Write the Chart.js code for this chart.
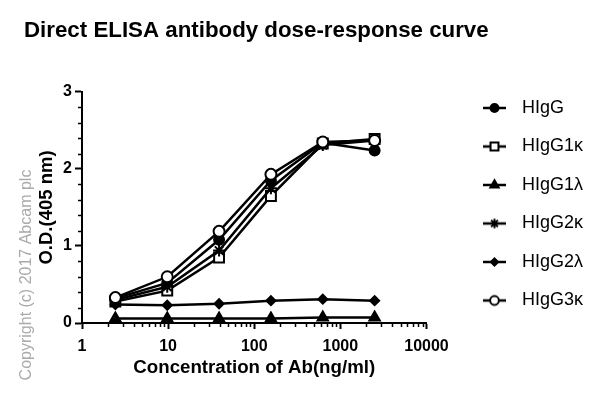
<!DOCTYPE html>
<html>
<head>
<meta charset="utf-8">
<script src="https://cdn.jsdelivr.net/npm/chart.js@4"></script>
<style>
  html, body { margin: 0; padding: 0; background: #fff; }
  canvas { display: block; }
</style>
</head>
<body>
<canvas id="elisaChart" width="600" height="399"></canvas>
<script>
// concentrations (ng/ml), 4-fold dilution series
const concentrations = [2.44, 9.77, 39.06, 156.25, 625, 2500];
const seriesNames = ['HIgG', 'HIgG1κ', 'HIgG1λ', 'HIgG2κ', 'HIgG2λ', 'HIgG3κ'];
const hIgG   = [0.32, 0.52, 1.08, 1.85, 2.34, 2.24];
const hIgG1k = [0.28, 0.42, 0.85, 1.65, 2.33, 2.39];
const hIgG1l = [0.06, 0.06, 0.06, 0.06, 0.07, 0.07];
const hIgG2k = [0.30, 0.47, 0.94, 1.75, 2.31, 2.37];
const hIgG2l = [0.24, 0.23, 0.25, 0.29, 0.31, 0.29];
const hIgG3k = [0.33, 0.60, 1.19, 1.93, 2.35, 2.37];
const xTickLabels = [1, 10, 100, 1000, 10000];
const yTickLabels = [0, 1, 2, 3];

const FONT = 'Liberation Sans';

function toPoints(values) {
    return concentrations.map((c, i) => ({ x: c, y: values[i] }));
}

const markers = [
    { style: 'circle',   radius: 5,   fill: '#000' },
    { style: 'rect',     radius: 7,   fill: '#fff' },
    { style: 'triangle', radius: 6,   fill: '#000' },
    { style: 'star',     radius: 6,   fill: '#000' },
    { style: 'rectRot',  radius: 4.5, fill: '#000' },
    { style: 'circle',   radius: 5.5, fill: '#fff' }
];
const allValues = [hIgG, hIgG1k, hIgG1l, hIgG2k, hIgG2l, hIgG3k];

// small canvas with line + marker for each legend row (blank left part = gap to plot)
function legendIcon(m) {
    const c = document.createElement('canvas');
    c.width = 66; c.height = 20;
    const g = c.getContext('2d');
    g.strokeStyle = '#000';
    g.lineWidth = 2.5;
    g.beginPath(); g.moveTo(36, 10); g.lineTo(59, 10); g.stroke();
    g.fillStyle = m.fill;
    g.lineWidth = 2;
    Chart.helpers.drawPoint(g, { pointStyle: m.style, radius: m.radius * 0.8, borderWidth: 2, rotation: 0 }, 47.5, 10);
    return c;
}
const icons = markers.map(legendIcon);

// minor ticks + copyright note
const extras = {
    id: 'extras',
    afterDraw(chart) {
        const ctx = chart.ctx;
        const xs = chart.scales.x, ys = chart.scales.y;
        ctx.save();
        ctx.strokeStyle = '#000';
        ctx.lineWidth = 1.5;
        ctx.beginPath();
        for (let k = 1; k < 15; k++) {
            if (k % 5 === 0) continue;
            const py = Math.round(ys.getPixelForValue(k * 0.2)) + 0.5;
            ctx.moveTo(ys.right - 4, py);
            ctx.lineTo(ys.right, py);
        }
        for (let d = 1; d < 10000; d *= 10) {
            for (let m = 2; m < 10; m++) {
                const px = Math.round(xs.getPixelForValue(d * m)) + 0.5;
                ctx.moveTo(px, xs.top);
                ctx.lineTo(px, xs.top + 4);
            }
        }
        ctx.stroke();

        ctx.translate(27, 275);
        ctx.rotate(-Math.PI / 2);
        ctx.fillStyle = '#aaaaaa';
        ctx.font = '16px ' + FONT;
        ctx.textAlign = 'center';
        ctx.textBaseline = 'middle';
        ctx.fillText('Copyright (c) 2017 Abcam plc', 0, 0);
        ctx.restore();
    }
};

const ctx = document.getElementById('elisaChart').getContext('2d');
new Chart(ctx, {
    type: 'line',
    data: {
        datasets: seriesNames.map((name, i) => ({
            label: name,
            data: toPoints(allValues[i]),
            borderColor: '#000',
            borderWidth: 2.5,
            fill: false,
            tension: 0,
            pointStyle: markers[i].style,
            pointRadius: markers[i].radius,
            pointHoverRadius: markers[i].radius,
            pointBackgroundColor: markers[i].fill,
            pointBorderColor: '#000',
            pointBorderWidth: 2,
            order: 6 - i
        }))
    },
    options: {
        responsive: false,
        animation: false,
        layout: { padding: { left: 24, right: 7, top: 0, bottom: 0 } },
        plugins: {
            title: {
                display: true,
                text: 'Direct ELISA antibody dose-response curve',
                align: 'start',
                color: '#000',
                font: { family: FONT, size: 22.3, weight: 'bold' },
                padding: { top: 17.6, bottom: 47.6 }
            },
            legend: {
                position: 'right',
                align: 'start',
                maxWidth: 220,
                title: {
                    display: true,
                    text: '',
                    font: { size: 10 },
                    padding: { top: 66.5, bottom: 0 }
                },
                labels: {
                    usePointStyle: true,
                    pointStyleWidth: 66,
                    padding: 20.5,
                    color: '#000',
                    font: { family: FONT, size: 18 },
                    generateLabels: function (chart) {
                        return chart.data.datasets.map((ds, i) => ({
                            text: ds.label,
                            pointStyle: icons[i],
                            fillStyle: '#000',
                            strokeStyle: '#000',
                            lineWidth: 0,
                            fontColor: '#000',
                            hidden: false,
                            datasetIndex: i
                        }));
                    }
                }
            },
            tooltip: { enabled: false }
        },
        scales: {
            x: {
                type: 'logarithmic',
                position: 'bottom',
                min: 1,
                max: 10000,
                border: { color: '#000', width: 2 },
                grid: { drawOnChartArea: false, drawTicks: true, tickLength: 6, tickWidth: 2, tickColor: '#000' },
                afterBuildTicks: function (scale) {
                    scale.ticks = xTickLabels.map(v => ({ value: v }));
                },
                afterFit: function (scale) { scale.height = 76; },
                ticks: {
                    color: '#000',
                    font: { family: FONT, size: 16, weight: 'bold' },
                    padding: 8,
                    autoSkip: false,
                    maxRotation: 0,
                    callback: function (value) { return String(value); }
                },
                title: {
                    display: true,
                    text: 'Concentration of Ab(ng/ml)',
                    color: '#000',
                    font: { family: FONT, size: 18.7, weight: 'bold' },
                    padding: { top: 0, bottom: 20 }
                }
            },
            y: {
                min: 0,
                max: 3,
                border: { color: '#000', width: 2 },
                grid: { drawOnChartArea: false, drawTicks: true, tickLength: 7, tickWidth: 2, tickColor: '#000' },
                afterBuildTicks: function (scale) {
                    scale.ticks = yTickLabels.map(v => ({ value: v }));
                },
                afterFit: function (scale) { scale.width = 58; },
                ticks: {
                    color: '#000',
                    font: { family: FONT, size: 16, weight: 'bold' },
                    padding: 3
                },
                title: {
                    display: true,
                    text: 'O.D.(405 nm)',
                    color: '#000',
                    font: { family: FONT, size: 18.5, weight: 'bold' },
                    padding: { top: 12, bottom: 0 }
                }
            }
        }
    },
    plugins: [extras]
});
</script>
</body>
</html>
